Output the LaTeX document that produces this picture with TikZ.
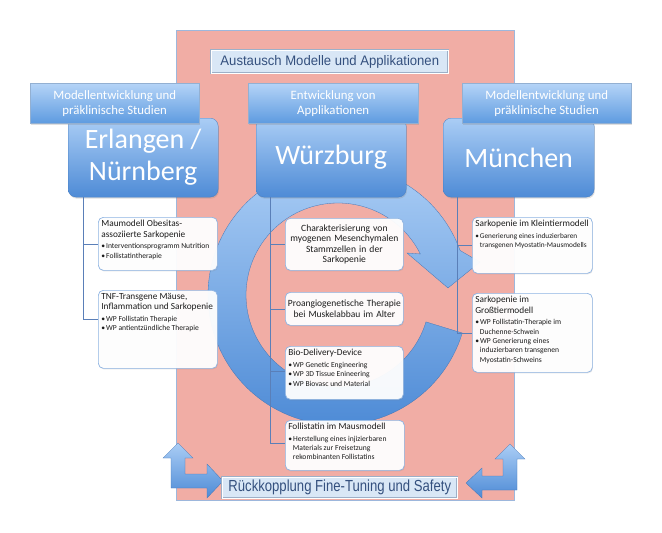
\documentclass[tikz,border=0pt]{standalone}
\usepackage{fontspec}
\setmainfont{Carlito}
\newfontfamily\narrowA[FakeStretch=0.95]{Liberation Sans}
\newfontfamily\narrowB[FakeStretch=0.82]{Liberation Sans}
\usetikzlibrary{shadows}
\definecolor{pinkbg}{HTML}{F1ADA5}
\definecolor{pinkedge}{HTML}{9DB7DC}
\definecolor{blueTop}{HTML}{AACDF5}
\definecolor{blueBot}{HTML}{4E8BD6}
\definecolor{hdrTop}{HTML}{B5D4F7}
\definecolor{hdrBot}{HTML}{5E9BE0}
\definecolor{boxedge}{HTML}{8DB3E2}
\definecolor{conncol}{HTML}{5A7FB8}
\definecolor{bevelfill}{HTML}{D9E7F6}
\definecolor{beveledge}{HTML}{9DB0C8}
\definecolor{beveltext}{HTML}{34507E}
\definecolor{txt}{HTML}{1C1C1C}
\newcommand{\ttl}{\fontsize{9.3}{10.3}\selectfont}
\newcommand{\bltf}{\fontsize{7.6}{9.3}\selectfont}
\newcommand{\mybul}{\textbullet\hspace{1pt}}
\newcommand{\hang}{\hspace*{4.6pt}}
\begin{document}
\begin{tikzpicture}[x=1pt,y=-1pt,
  hdr/.style={rectangle, top color=hdrTop, bottom color=hdrBot, draw=hdrBot!80!black!60, line width=0.4pt,
    text=white, align=center, font=\fontsize{12.8}{15}\selectfont, inner sep=0pt,
    drop shadow={shadow xshift=0.8pt, shadow yshift=-1.5pt, opacity=0.25}},
  city/.style={rectangle, rounded corners=8pt, top color=blueTop, bottom color=blueBot, draw=blueBot!90!black, line width=0.3pt,
    text=white, align=center, font=\fontsize{28}{32}\selectfont, inner sep=0pt,
    drop shadow={shadow xshift=0.8pt, shadow yshift=-1.5pt, opacity=0.25}},
  wbox/.style={rectangle, rounded corners=5pt, draw=boxedge, line width=0.7pt, fill=white, fill opacity=0.95, text opacity=1,
    text=txt, inner sep=3pt, anchor=north west, align=left,
    drop shadow={shadow xshift=0.6pt, shadow yshift=-1pt, opacity=0.2}},
  cbox/.style={wbox, align=center, font=\ttl},
  conn/.style={draw=conncol, line width=0.7pt},
  bevel/.style={rectangle, fill=bevelfill, draw=beveledge, line width=0.6pt, double=white, double distance=0.9pt,
    text=beveltext, inner sep=0pt},
  blue3d/.style={top color=blueTop, bottom color=blueBot, draw=blueBot!85!black, line width=0.3pt}
]
\useasboundingbox (0,0) rectangle (662,533);

% pink background
\path[fill=pinkbg, draw=pinkedge, line width=0.6pt] (176,30) rectangle (514,500);

% circular arrow
\path[blue3d]
  plot[domain=17:340, samples=120] ({338+130*cos(\x)},{295+130*sin(\x)})
  -- (480,262) -- (448,288) -- (407,253)
  -- plot[domain=333.5:17, samples=120] ({338+92*cos(\x)},{295+92*sin(\x)})
  -- cycle;

% L-shaped arrows
\path[blue3d] (178,443) -- (193,458) -- (185,458) -- (185,474) -- (207,474) -- (207,464)
  -- (223,481) -- (207,498) -- (207,488) -- (171,488) -- (171,458) -- (163,458) -- cycle;
\path[blue3d] (510,444) -- (525,459) -- (517,459) -- (517,490) -- (482,490) -- (482,498)
  -- (466,483) -- (482,468) -- (482,476) -- (503,476) -- (503,459) -- (495,459) -- cycle;

% top boxes
\node[bevel, minimum width=237pt, minimum height=23pt, anchor=north west] (aus) at (211,50)
  {\narrowA\fontsize{13.8}{16}\selectfont Austausch Modelle und Applikationen};

\node[city, minimum width=150pt, minimum height=79pt, anchor=north west] (erl) at (68,118) {Erlangen /\\Nürnberg};
\node[city, minimum width=150pt, minimum height=79pt, anchor=north west] (wue) at (256,118) {\raisebox{-3pt}{Würzburg}};
\node[city, minimum width=151pt, minimum height=79pt, anchor=north west] (mue) at (443,118) {\raisebox{-3pt}{München}};

\node[hdr, minimum width=169pt, minimum height=40pt, anchor=north west] (h1) at (30,83) {Modellentwicklung und\\präklinische Studien};
\node[hdr, minimum width=170pt, minimum height=40pt, anchor=north west] (h2) at (248,83) {Entwicklung von\\Applikationen};
\node[hdr, minimum width=169pt, minimum height=40pt, anchor=north west] (h3) at (462,83) {Modellentwicklung und\\präklinische Studien};

% left column boxes
\node[wbox] (maum) at (98,217) {\parbox[c][47pt][t]{113pt}{\ttl Maumodell Obesitas-\\assoziierte Sarkopenie\par\vspace{2.5pt}
  \bltf\mybul Interventionsprogramm Nutrition\\\mybul Follistatintherapie}};
\node[wbox] (tnf) at (98,290) {\parbox[c][72pt][t]{113pt}{\ttl TNF-Transgene Mäuse,\\Inflammation und Sarkopenie\par\vspace{2.5pt}
  \bltf\mybul WP Follistatin Therapie\\\mybul WP antientzündliche Therapie}};

% middle column boxes
\node[cbox, minimum width=118pt, minimum height=52pt, text width=112pt] (char) at (285,218)
  {\fontsize{9.6}{10.4}\selectfont Charakterisierung von\\myogenen Mesenchymalen\\Stammzellen in der\\Sarkopenie};
\node[cbox, minimum width=118pt, minimum height=33pt, text width=114pt, inner sep=2pt] (pro) at (285,292)
  {\fontsize{9.5}{10.6}\selectfont Proangiogenetische Therapie\\bei Muskelabbau im Alter};
\node[wbox] (bio) at (285,346) {\parbox[c][47pt][t]{112pt}{\ttl Bio-Delivery-Device\par\vspace{2.5pt}
  \bltf\mybul WP Genetic Engineering\\\mybul WP 3D Tissue Enineering\\\mybul WP Biovasc und Material}};
\node[wbox] (fol) at (285,420) {\parbox[c][44pt][t]{113pt}{\ttl Follistatin im Mausmodell\par\vspace{2pt}
  \bltf\mybul Herstellung eines injizierbaren\\\hang Materials zur Freisetzung\\\hang rekombinanten Follistatins}};

% right column boxes
\node[wbox] (klein) at (472,217) {\parbox[c][50pt][t]{114pt}{\ttl Sarkopenie im Kleintiermodell\par\vspace{2.5pt}
  \fontsize{7.3}{9.2}\selectfont\mybul Generierung eines induzierbaren\\\hang\mbox{transgenen Myostatin-Mausmodells}}};
\node[wbox] (gross) at (472,293) {\parbox[c][73pt][t]{114pt}{\ttl Sarkopenie im\\Großtiermodell\par\vspace{2.5pt}
  \bltf\mybul WP Follistatin-Therapie im\\\hang Duchenne-Schwein\\\mybul WP Generierung eines\\\hang induzierbaren transgenen\\\hang Myostatin-Schweins}};

% connectors
\draw[conn] ([xshift=15pt]erl.south west) |- (maum.west);
\draw[conn] ([xshift=15pt]erl.south west) |- ([yshift=10pt]tnf.west);
\draw[conn] ([xshift=14pt]wue.south west) |- (char.west);
\draw[conn] ([xshift=14pt]wue.south west) |- (pro.west);
\draw[conn] ([xshift=14pt]wue.south west) |- ([yshift=2pt]bio.west);
\draw[conn] ([xshift=14pt]wue.south west) |- ([yshift=2pt]fol.west);
\draw[conn] ([xshift=14pt]mue.south west) |- (klein.west);
\draw[conn] ([xshift=14pt]mue.south west) |- (gross.west);

% bottom bevel box
\node[bevel, minimum width=235pt, minimum height=21pt, anchor=north west] (rueck) at (222,477)
  {\narrowB\fontsize{16}{18}\selectfont Rückkopplung Fine-Tuning und Safety};
\end{tikzpicture}
\end{document}
